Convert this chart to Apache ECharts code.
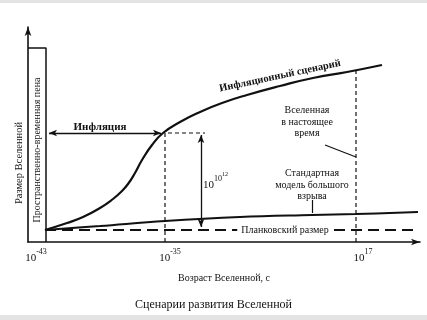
<!DOCTYPE html>
<html lang="ru">
<head>
    <meta charset="utf-8">
    <script type="text/javascript" src="https://fastly.jsdelivr.net/npm/echarts@6.0.0/dist/echarts.min.js"></script>
</head>
<body style="margin: 0; background: #fff">
<div id="container" style="width: 427px; height: 320px"></div>
<script type="text/javascript">
    // Схема: оси в условных единицах рисунка (не в реальном масштабе)
    var inflation = [[17, 12], [39, 19], [55, 25], [72, 34], [85, 43], [93, 50], [100, 58], [107, 69],
        [114, 82], [124, 97], [135, 109], [152, 120], [172, 130], [194, 139], [219, 147], [252, 156],
        [285, 164], [319, 170], [354, 177]];
    var standard = [[17, 12], [72, 16], [137, 21], [212, 25], [284, 27], [328, 28], [390, 30]];
    var planck = [[17, 12], [390, 12]];
    var foamBox = [[0, 194], [18, 194], [18, 0]];
    var tickPos = [18, 137, 328];
    var tickExp = ['-43', '-35', '17'];
    var inflationEnd = 109;   // размер в конце инфляции
    var nowAge = 328;         // настоящее время
    var nowSize = 172;

    var serif = 'Liberation Serif';
    var dom = document.getElementById('container');
    var myChart = echarts.init(dom, null, {renderer: 'canvas'});

    var black = '#111';
    function plain(data, width, dash) {
        return {
            type: 'line', data: data, symbol: 'none', silent: true, animation: false,
            lineStyle: {color: black, width: width, type: dash || 'solid'}
        };
    }

    var option = {
        animation: false,
        backgroundColor: '#fff',
        title: {
            text: 'Сценарии развития Вселенной',
            left: 'center', top: 294,
            textStyle: {fontFamily: serif, fontSize: 12, fontWeight: 'normal', color: black}
        },
        grid: {left: 28, right: 7, top: 27, bottom: 78},
        xAxis: {
            type: 'value', min: 0, max: 392,
            name: 'Возраст Вселенной, с',
            nameLocation: 'middle', nameGap: 31,
            nameTextStyle: {fontFamily: serif, fontSize: 10, color: black},
            splitLine: {show: false},
            axisTick: {show: false},
            axisLine: {lineStyle: {color: black, width: 1.6}, symbol: ['none', 'arrow'], symbolSize: [5, 9]},
            axisLabel: {
                customValues: tickPos,
                margin: 6,
                formatter: function (v) {
                    var i = tickPos.indexOf(v);
                    var pre = i === 0 ? '' : (i === 1 ? '{g|}' : '{w|}');
                    var post = i === 0 ? '{p|}' : '';
                    return pre + '{b|10}{s|' + tickExp[i] + '}' + post;
                },
                rich: {
                    b: {fontFamily: serif, fontSize: 11, color: black, lineHeight: 16, verticalAlign: 'bottom'},
                    s: {fontFamily: serif, fontSize: 8, color: black, verticalAlign: 'top'},
                    p: {width: 20},
                    g: {width: 10},
                    w: {width: 14}
                }
            }
        },
        yAxis: {
            type: 'value', min: 0, max: 215,
            splitLine: {show: false},
            axisTick: {show: false},
            axisLabel: {show: false},
            axisLine: {lineStyle: {color: black, width: 1.6}, symbol: ['none', 'arrow'], symbolSize: [5, 9]}
        },
        series: [
            Object.assign(plain(inflation, 2.2), {smooth: 0.5}),
            Object.assign(plain(standard, 2), {smooth: 0.4}),
            plain(planck, 1.8, [11, 6]),
            plain(foamBox, 1.5),
            plain([[137, 0], [137, inflationEnd], [177, inflationEnd]], 1.2, [4, 3]),
            plain([[nowAge, 0], [nowAge, nowSize]], 1.2, [4, 3]),
            {
                type: 'line', data: [], silent: true, animation: false,
                markLine: {
                    silent: true, animation: false,
                    symbol: ['arrow', 'arrow'], symbolSize: [5, 8],
                    label: {show: false},
                    lineStyle: {color: black, width: 1.3, type: 'solid'},
                    data: [
                        [{coord: [21, inflationEnd]}, {coord: [133, inflationEnd]}],
                        [{coord: [173, inflationEnd - 2]}, {coord: [173, 15]}]
                    ]
                }
            },
            {
                type: 'line', data: [], silent: true, animation: false,
                markLine: {
                    silent: true, animation: false,
                    symbol: ['none', 'none'],
                    label: {show: false},
                    lineStyle: {color: black, width: 1.2, type: 'solid'},
                    data: [
                        [{coord: [297, 97]}, {coord: [nowAge, 85]}],
                        [{coord: [284, 42]}, {coord: [284, 29]}]
                    ]
                }
            }
        ]
    };
    myChart.setOption(option);

    function px(p) {
        return myChart.convertToPixel({gridIndex: 0}, p);
    }
    function note(text, at, extra) {
        var p = px(at);
        var st = Object.assign({
            text: text, x: 0, y: 0, fill: black,
            font: '10px "' + serif + '"',
            align: 'center', verticalAlign: 'middle', lineHeight: 11.5
        }, extra && extra.style);
        return {
            type: 'text', x: p[0], y: p[1], rotation: (extra && extra.rotation) || 0,
            z: 100, silent: true, style: st
        };
    }

    myChart.setOption({
        graphic: [
            {type: 'rect', left: 0, top: 0, shape: {width: 427, height: 3}, style: {fill: '#e4e4e4'}, silent: true},
            {type: 'rect', left: 0, top: 315, shape: {width: 427, height: 5}, style: {fill: '#e4e4e4'}, silent: true},
            {
                type: 'text', x: 19, y: 163, rotation: Math.PI / 2, silent: true,
                style: {text: 'Размер Вселенной', font: '10.5px "' + serif + '"', fill: black, align: 'center', verticalAlign: 'middle'}
            },
            note('Пространственно-временная пена', [9, 92], {rotation: Math.PI / 2}),
            note('Инфляция', [72, 115], {style: {font: 'bold 11px "' + serif + '"'}}),
            note('Инфляционный сценарий', [252, 166], {rotation: 0.21, style: {font: 'bold 10.5px "' + serif + '"'}}),
            note('Вселенная\nв настоящее\nвремя', [279, 120]),
            note('Стандартная\nмодель большого\nвзрыва', [284, 57]),
            note('Планковский размер', [257, 12], {style: {backgroundColor: '#fff', padding: [1, 4]}}),
            note('{b|10}{s|10}{t|12}', [175, 61], {
                style: {
                    align: 'left', text: '{b|10}{s|10}{t|12}',
                    rich: {
                        b: {fontFamily: serif, fontSize: 11, fill: black, lineHeight: 20, verticalAlign: 'bottom'},
                        s: {fontFamily: serif, fontSize: 8, fill: black, verticalAlign: 'top', padding: [4, 0, 0, 0]},
                        t: {fontFamily: serif, fontSize: 6, fill: black, verticalAlign: 'top'}
                    }
                }
            })
        ]
    });
</script>
</body>
</html>
